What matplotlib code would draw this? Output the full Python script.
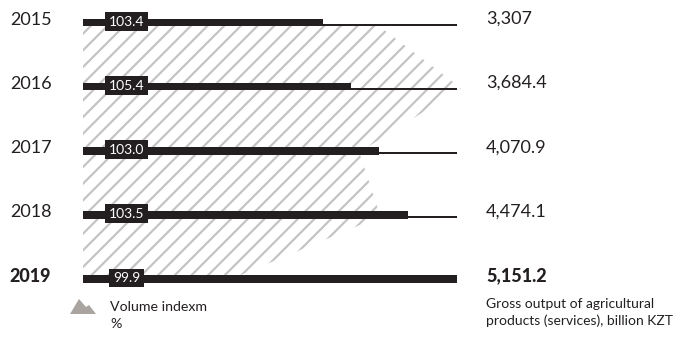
import matplotlib
matplotlib.use("Agg")
import matplotlib.pyplot as plt
from matplotlib.patches import Polygon
import numpy as np

years = ["2015", "2016", "2017", "2018", "2019"]
gross_output = [3307.0, 3684.4, 4070.9, 4474.1, 5151.2]
gross_labels = ["3,307", "3,684.4", "4,070.9", "4,474.1", "5,151.2"]
volume_index = [103.4, 105.4, 103.0, 103.5, 99.9]
index_labels = ["103.4", "105.4", "103.0", "103.5", "99.9"]

DARK = "#231f20"
HATCH = "#c4c4c4"
FONT = ["Lato", "DejaVu Sans"]

W, H = 681, 337
fig = plt.figure(figsize=(W / 100, H / 100), dpi=100)
plt.rcParams["hatch.linewidth"] = 1.6

# axes: x from 83px to 457px, rows from y=22.5 to y=279 (top-down)
x0, x1 = 83, 457
ytop, ybot = 22.5, 279
ax_idx = fig.add_axes([x0 / W, (H - ybot) / H, (x1 - x0) / W, (ybot - ytop) / H])
ax_bar = ax_idx.twiny()

rows = np.arange(len(years))
ppu = (ybot - ytop) / (len(years) - 1)  # pixels per row unit

# volume index area (hatched)
idx_lo = 96.5
ax_idx.set_xlim(idx_lo, idx_lo + (x1 - x0) / 42.5)
ax_idx.set_ylim(len(years) - 1, 0)
ax_idx.fill_betweenx(rows + 1.5 / ppu, idx_lo, volume_index, facecolor="none",
                     edgecolor=HATCH, hatch="//", linewidth=0, clip_on=False)

# bars
xmax = max(gross_output)
ax_bar.set_xlim(0, xmax)
ax_bar.set_ylim(len(years) - 1, 0)
ax_bar.barh(rows + 2.3 / ppu, [xmax] * len(years), height=2.6 / ppu, left=0,
            color=DARK, clip_on=False)
ax_bar.barh(rows, gross_output, height=7.6 / ppu, left=0, color=DARK, clip_on=False)

for i, (yr, gl, il) in enumerate(zip(years, gross_labels, index_labels)):
    last = i == len(years) - 1
    wt = "black" if last else "normal"
    ax_bar.annotate(yr, xy=(0, i), xytext=(-74 if last else -73, 2.5),
                    textcoords="offset pixels", ha="left", va="center",
                    fontsize=13, fontweight=wt, color=DARK, family=FONT,
                    annotation_clip=False)
    ax_bar.annotate(gl, xy=(xmax, i), xytext=(29, 3.5),
                    textcoords="offset pixels", ha="left", va="center",
                    fontsize=13, fontweight=wt, color=DARK, family=FONT,
                    annotation_clip=False)
    ax_bar.annotate(il, xy=(0, i), xytext=(43.5, 1),
                    textcoords="offset pixels", ha="center", va="center",
                    fontsize=10, color="white", family=FONT,
                    bbox=dict(boxstyle="square,pad=0.25", fc=DARK, ec="none"),
                    annotation_clip=False)

for a in (ax_idx, ax_bar):
    a.set_axis_off()

# legend icon (mountain)
pts = [(70, 314), (79, 299), (86, 307), (89, 305), (96, 314)]
fig.patches.append(Polygon([(x / W, (H - y) / H) for x, y in pts], closed=True,
                           transform=fig.transFigure, fc="#a9a4a0", ec="none"))
fig.text(110 / W, (H - 307) / H, "Volume indexm", fontsize=10.2, color=DARK,
         family=FONT, ha="left", va="center")
fig.text(110 / W, (H - 324) / H, "%", fontsize=10.2, color=DARK,
         family=FONT, ha="left", va="center")
fig.text(486 / W, (H - 304) / H, "Gross output of agricultural", fontsize=10,
         color=DARK, family=FONT, ha="left", va="center")
fig.text(486 / W, (H - 321) / H, "products (services), billion KZT", fontsize=10,
         color=DARK, family=FONT, ha="left", va="center")

fig.savefig("out.png", dpi=100)
